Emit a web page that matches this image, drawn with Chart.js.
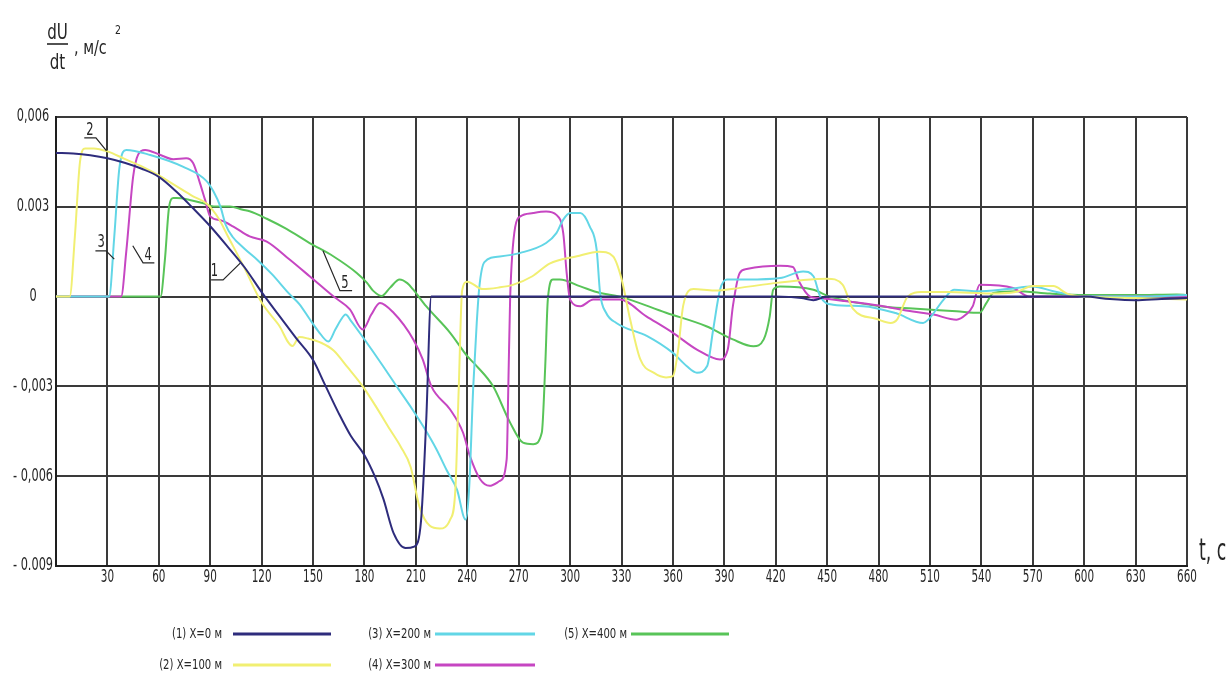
<!DOCTYPE html>
<html>
<head>
<meta charset="utf-8">
<title>dU/dt</title>
<script src="https://cdn.jsdelivr.net/npm/chart.js@4.4.1/dist/chart.umd.min.js"></script>
<style>
  html, body { margin: 0; padding: 0; background: #ffffff; }
  #c { display: block; }
</style>
</head>
<body>
<canvas id="c" width="1229" height="679"></canvas>
<script>
// Time axis ticks (s) and acceleration axis ticks (m/s^2)
const xTickValues = [0,30,60,90,120,150,180,210,240,270,300,330,360,390,420,450,480,510,540,570,600,630,660];
const xTickLabels = ['','30','60','90','120','150','180','210','240','270','300','330','360','390','420','450','480','510','540','570','600','630','660'];
const yTickValues = [-0.009,-0.006,-0.003,0,0.003,0.006];
const yTickLabels = ['- 0.009','- 0,006','- 0,003','0','0.003','0,006'];

const seriesLabels = ['(1) X=0 м','(2) X=100 м','(3) X=200 м','(4) X=300 м','(5) X=400 м'];
const seriesColors = ['#2e2c7c','#f1ef72','#62d6e6','#c646c2','#58c458'];

// (1) X = 0 m
const t1 = [0,10,20,30,40,50,60,70,80,90,100,110,120,130,140,150,157,165,172,180,186,191,197,204,209,213,216,219,230,420,435,442,450,600,615,630,645,660];
const v1 = [0.0048,0.00478,0.00472,0.00462,0.00447,0.00427,0.004,0.00352,0.00295,0.00235,0.00168,0.00098,0.00015,-0.00062,-0.00138,-0.00212,-0.00295,-0.0039,-0.00465,-0.0053,-0.006,-0.00675,-0.0079,-0.0084,-0.00835,-0.0075,-0.0042,0,0,0,-0.00005,-0.00012,0,0,-0.00008,-0.00012,-0.00008,-0.00005];

// (2) X = 100 m
const t2 = [0,8,11,14,17,22,30,40,50,60,70,80,88,95,100,110,120,130,138,142,147,155,162,170,179,187,195,201,207,212,218,224,230,233,235,237,240,249,258,267,278,288,304,317,325,330,335,341,349,356,360,363,366,372,384,400,419,435,450,459,465,479,487,491,497,505,520,545,560,570,582,590,600,630,660];
const v2 = [0,0,0.002,0.0045,0.00495,0.00495,0.00485,0.0046,0.00435,0.00405,0.0037,0.00335,0.0031,0.0026,0.00205,0.00095,-0.0002,-0.00095,-0.00165,-0.00135,-0.0014,-0.00155,-0.0018,-0.00235,-0.003,-0.0037,-0.00445,-0.005,-0.0057,-0.007,-0.00765,-0.00775,-0.00745,-0.0065,-0.0031,0.0002,0.0005,0.00025,0.0003,0.0004,0.00068,0.0011,0.00135,0.0015,0.00135,0.0006,-0.00075,-0.0021,-0.00255,-0.0027,-0.00266,-0.0018,-0.0003,0.00025,0.0002,0.0003,0.00045,0.00055,0.0006,0.0004,-0.0004,-0.00075,-0.00088,-0.00075,0,0.00015,0.00015,0.0001,0.00015,0.00035,0.00035,0.0001,0,-0.00005,-0.0001];

// (3) X = 200 m
const t3 = [0,31,34,37,41,55,74,88,92,96,99,103,110,118,126,136,142,148,153,159,163,166,169,172,179,190,200,208,215,222,228,234,239,241,243.5,245.5,247,250,259,271,286,292,296,300,306,311.5,315.5,317.5,321,327,345,360,368,374,380,383.5,387.5,391.5,403,422.5,436,442,446,453.5,471,490,506,509,518,524,537,555,570,582,600,630,660];
const v3 = [0,0,0.002,0.0043,0.0049,0.00473,0.00434,0.00385,0.0035,0.003,0.0024,0.002,0.0016,0.0012,0.00075,0.0001,-0.00025,-0.00075,-0.00115,-0.0015,-0.0011,-0.0008,-0.0006,-0.0008,-0.00135,-0.00225,-0.0031,-0.00377,-0.0044,-0.0051,-0.0058,-0.00645,-0.00745,-0.0065,-0.003,-0.0009,0.0003,0.00115,0.00134,0.00146,0.00179,0.00212,0.00257,0.00279,0.00279,0.00234,0.00157,0.00012,-0.00054,-0.00088,-0.00132,-0.00188,-0.00232,-0.00254,-0.00232,-0.0011,0.00023,0.00057,0.00057,0.00062,0.00084,0.00068,0,-0.00027,-0.00032,-0.00055,-0.00088,-0.00077,-0.0001,0.00023,0.00018,0.00025,0.00034,0.00018,0,0,0.00005];

// (4) X = 300 m
const t4 = [0,38,41,45,48,52,61,68.5,76,80,84,87,90,96,103.5,113,123,136.5,148,162,171.5,179,184,189,197,208.5,214,219,230,237.5,241.5,247.5,253,259,263,264,265,268,271,278.5,286,292,296,298,300,306,313.5,329,344.5,360,374,387.5,392,395,399,403,422.5,430,434,440,445,460,480,500,512,525.5,531,535,539,558.5,568,600,660];
const v4 = [0,0,0.0015,0.004,0.00475,0.0049,0.00473,0.00459,0.00462,0.00446,0.00379,0.00323,0.00268,0.00255,0.00234,0.00201,0.00184,0.00123,0.00068,0,-0.00043,-0.0011,-0.0006,-0.00021,-0.00054,-0.00143,-0.0021,-0.00299,-0.00377,-0.00454,-0.00532,-0.0061,-0.00632,-0.00616,-0.00543,-0.00288,-0.0001,0.00234,0.00268,0.00279,0.00284,0.00273,0.00212,0.00079,-0.0001,-0.00032,-0.0001,-0.0001,-0.00066,-0.00121,-0.00177,-0.0021,-0.00177,-0.00032,0.00079,0.00092,0.00103,0.00099,0.00046,0,-0.00005,-0.00015,-0.0003,-0.0005,-0.0006,-0.00077,-0.0006,-0.00032,0.0004,0.00029,0,0,0];

// (5) X = 400 m
const t5 = [0,61,63.5,66,68.5,70.5,78,86,92,101.5,109,113,123,134.5,148,162,175.5,181.5,185,190,195,200.5,205,208.5,216,230,240,245.5,255,265,272.5,278.5,283.5,285.5,287,290,294,306,317.5,329,356,379.5,395,407,413,416.5,418.5,422.5,442,451.5,481,500,525.5,539,543,547,560.5,580,600,630,654,660];
const v5 = [0,0,0.0012,0.003,0.00329,0.00329,0.00323,0.00312,0.00301,0.00301,0.0029,0.00285,0.0026,0.00226,0.00179,0.00134,0.00079,0.00046,0.0002,0.00002,0.0003,0.00057,0.00045,0.00023,-0.00032,-0.00121,-0.00199,-0.00232,-0.00299,-0.00421,-0.00488,-0.00493,-0.00454,-0.00232,-0.0001,0.00057,0.00057,0.00034,0.00012,0,-0.00054,-0.00099,-0.00143,-0.00166,-0.00143,-0.00066,0.00023,0.00034,0.00023,0,-0.00032,-0.0004,-0.00049,-0.00054,-0.00021,0.00012,0.00018,0.0001,0.00005,0.00005,0.00007,0.00005];

// Curve number callouts: label anchor and leader polyline, in data units (s, m/s^2)
const callouts = [
  { text: '1', at: [92.5, 0.00082], path: [[90.5, 0.00056], [97.5, 0.00056], [107.5, 0.00112]] },
  { text: '2', at: [19.8, 0.00553], path: [[16.5, 0.0053], [23.3, 0.0053], [29.5, 0.00487]] },
  { text: '3', at: [26.3, 0.0018], path: [[23.0, 0.00153], [29.2, 0.00153], [34.0, 0.00125]] },
  { text: '4', at: [53.8, 0.00137], path: [[44.8, 0.0017], [50.8, 0.00113], [57.4, 0.00113]] },
  { text: '5', at: [168.6, 0.00043], path: [[155.8, 0.00153], [165.7, 0.0002], [172.8, 0.0002]] }
];

const ts = [t1, t2, t3, t4, t5];
const vs = [v1, v2, v3, v4, v5];

const FONT = "'DejaVu Sans Condensed', 'DejaVu Sans', sans-serif";
const INK = '#262626';
const GRID = '#3a3a3a';

const datasets = ts.map((t, i) => ({
  label: seriesLabels[i],
  data: t.map((x, k) => ({ x: x, y: vs[i][k] })),
  borderColor: seriesColors[i],
  backgroundColor: seriesColors[i],
  borderWidth: 2,
  pointRadius: 0,
  fill: false,
  cubicInterpolationMode: 'monotone'
}));

// Text squeezed horizontally to get the tall, narrow drafting lettering
function narrowText(ctx, text, x, y, size, sx, align, baseline) {
  ctx.save();
  ctx.translate(x, y);
  ctx.scale(sx, 1);
  ctx.font = size + 'px ' + FONT;
  ctx.textAlign = align;
  ctx.textBaseline = baseline;
  ctx.fillText(text, 0, 0);
  ctx.restore();
}

// Tick labels, axis captions, curve callouts and the two-row legend
const decor = {
  id: 'decor',
  afterDraw(chart) {
    const ctx = chart.ctx;
    const xs = chart.scales.x, ys = chart.scales.y;
    ctx.save();
    ctx.fillStyle = INK;
    ctx.strokeStyle = INK;

    // tick labels placed through the chart scales
    xTickValues.forEach((v, i) => {
      narrowText(ctx, xTickLabels[i], xs.getPixelForValue(v), xs.top + 12, 17, 0.68, 'center', 'middle');
    });
    yTickValues.forEach((v, i) => {
      narrowText(ctx, yTickLabels[i], 33, ys.getPixelForValue(v), 17, 0.74, 'center', 'middle');
    });

    // y-axis caption: dU/dt, м/с²
    narrowText(ctx, 'dU', 57.5, 39, 21, 0.8, 'center', 'alphabetic');
    narrowText(ctx, 'dt', 57.5, 69, 21, 0.8, 'center', 'alphabetic');
    ctx.lineWidth = 1.6;
    ctx.beginPath(); ctx.moveTo(47, 44); ctx.lineTo(68, 44); ctx.stroke();
    narrowText(ctx, ', м/с', 74, 54, 20, 0.8, 'left', 'alphabetic');
    narrowText(ctx, '2', 115, 34, 13, 0.8, 'left', 'alphabetic');

    // x-axis caption
    narrowText(ctx, 't, c', 1199, 560, 30, 0.64, 'left', 'alphabetic');

    // callouts
    ctx.lineWidth = 1.2;
    callouts.forEach(c => {
      ctx.beginPath();
      c.path.forEach((p, k) => {
        const px = xs.getPixelForValue(p[0]), py = ys.getPixelForValue(p[1]);
        if (k === 0) ctx.moveTo(px, py); else ctx.lineTo(px, py);
      });
      ctx.stroke();
      narrowText(ctx, c.text, xs.getPixelForValue(c.at[0]), ys.getPixelForValue(c.at[1]), 17, 0.75, 'center', 'middle');
    });

    // legend: columns (text right edge, line start, line end), rows
    const cols = [[222, 233, 331], [431, 435, 535], [627, 631, 729]];
    const rows = [634, 665];
    chart.data.datasets.forEach((ds, i) => {
      const col = cols[Math.floor(i / 2)];
      const y = rows[i % 2];
      ctx.fillStyle = INK;
      narrowText(ctx, ds.label, col[0], y, 14, 0.8, 'right', 'middle');
      ctx.strokeStyle = ds.borderColor;
      ctx.lineWidth = 3;
      ctx.beginPath(); ctx.moveTo(col[1], y); ctx.lineTo(col[2], y); ctx.stroke();
    });
    ctx.restore();
  }
};

new Chart(document.getElementById('c'), {
  type: 'line',
  data: { datasets: datasets },
  options: {
    responsive: false,
    animation: false,
    events: [],
    layout: { padding: { top: 117, right: 42, left: 0, bottom: 0 } },
    plugins: { legend: { display: false }, tooltip: { enabled: false }, title: { display: false } },
    scales: {
      x: {
        type: 'linear',
        min: 0, max: 660,
        afterBuildTicks(s) { s.ticks = xTickValues.map(v => ({ value: v })); },
        afterFit(s) { s.height = 113; },
        ticks: { display: false },
        grid: { color: GRID, lineWidth: 2, drawTicks: false },
        border: { color: '#1e1e1e', width: 2 }
      },
      y: {
        type: 'linear',
        min: -0.009, max: 0.006,
        afterBuildTicks(s) { s.ticks = yTickValues.map(v => ({ value: v })); },
        afterFit(s) { s.width = 56; },
        ticks: { display: false },
        grid: { color: GRID, lineWidth: 2, drawTicks: false },
        border: { color: '#1e1e1e', width: 2 }
      }
    }
  },
  plugins: [decor]
});
</script>
</body>
</html>
